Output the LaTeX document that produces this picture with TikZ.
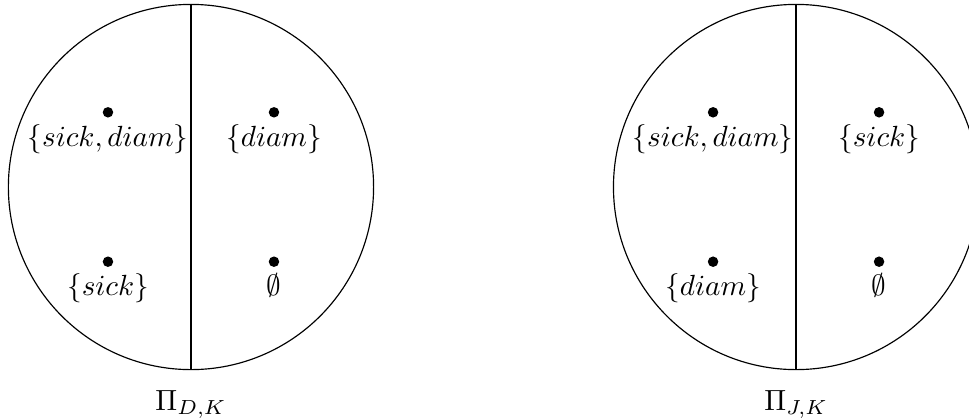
\documentclass[tikz,border=0pt]{standalone}
\usetikzlibrary{positioning}
\tikzset{
  pt/.style={circle, fill, inner sep=0pt, minimum size=3.6pt},
  lbl/.style={inner sep=2pt},
  disc/.style={draw, circle, minimum size=4.4cm, inner sep=0pt},
}
\begin{document}
\begin{tikzpicture}[node distance=0.1cm]
\useasboundingbox (-2.301,-2.7952) rectangle (9.3735,2.2530);

% left partition
\node[disc] (cD) at (0,0) {};
\draw (cD.north) -- (cD.south);

\node[pt] (dSD) at (-1,0.9) {};
\node[pt] (dD) at (1,0.9) {};
\node[pt] (dS) at (-1,-0.9) {};
\node[pt] (dE) at (1,-0.9) {};

\node[lbl, below=0pt of dSD] (lSD) {$\{sick,diam\}$};
\node[lbl, below=0pt of dD] (lD) {$\{diam\}$};
\node[lbl, below=0pt of dS] (lS) {$\{sick\}$};
\node[lbl, below=0pt of dE] (lE) {$\emptyset$};

\node[below=0.12cm of cD.south] (capD) {$\Pi_{D,K}$};

% right partition
\node[disc] (cJ) at (7.29,0) {};
\draw (cJ.north) -- (cJ.south);

\node[pt] (jSD) at (6.29,0.9) {};
\node[pt] (jS) at (8.29,0.9) {};
\node[pt] (jD) at (6.29,-0.9) {};
\node[pt] (jE) at (8.29,-0.9) {};

\node[lbl, below=0pt of jSD] (mSD) {$\{sick,diam\}$};
\node[lbl, below=0pt of jS] (mS) {$\{sick\}$};
\node[lbl, below=0pt of jD] (mD) {$\{diam\}$};
\node[lbl, below=0pt of jE] (mE) {$\emptyset$};

\node[below=0.12cm of cJ.south] (capJ) {$\Pi_{J,K}$};

\end{tikzpicture}
\end{document}
